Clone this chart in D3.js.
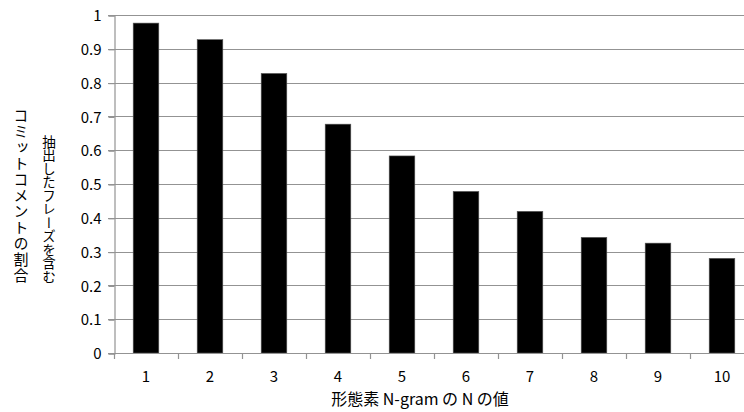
<!DOCTYPE html>
<html>
<head>
<meta charset="utf-8">
<script src="https://cdn.jsdelivr.net/npm/d3@7"></script>
<style>
  body { margin: 0; background: #fff; }
  svg text { font-family: "Noto Sans CJK JP", "Open Sans", sans-serif; fill: #000; }
</style>
</head>
<body>
<div id="chart"></div>
<script>
// values
const categories = ["1", "2", "3", "4", "5", "6", "7", "8", "9", "10"];
const ratios = [0.976, 0.927, 0.827, 0.677, 0.583, 0.478, 0.419, 0.342, 0.325, 0.280];
const yTicks = [0, 0.1, 0.2, 0.3, 0.4, 0.5, 0.6, 0.7, 0.8, 0.9, 1];
const xTitle = "形態素 N-gram の N の値";
const yTitleLines = ["抽出したフレーズを含む", "コミットコメントの割合"];

const width = 744, height = 412;

const svg = d3.select("#chart").append("svg")
    .attr("width", width)
    .attr("height", height);

const x = d3.scaleBand()
    .domain(categories)
    .range([114, 754])
    .paddingInner(0.6)
    .paddingOuter(0.3);

const y = d3.scaleLinear()
    .domain([0, 1])
    .range([353, 15]);

const gridColor = "#939393";

// gridlines
svg.append("g")
    .selectAll("line")
    .data(yTicks)
    .enter()
    .append("line")
    .attr("x1", 108)
    .attr("x2", 754)
    .attr("y1", d => Math.round(y(d)) + 0.5)
    .attr("y2", d => Math.round(y(d)) + 0.5)
    .attr("stroke", gridColor)
    .attr("stroke-width", 1.2);

// bars
svg.append("g")
    .selectAll("rect")
    .data(ratios)
    .enter()
    .append("rect")
    .attr("x", (d, i) => x(categories[i]))
    .attr("y", d => y(d))
    .attr("width", x.bandwidth())
    .attr("height", d => y(0) - y(d))
    .attr("fill", "#000")
    .attr("stroke", "#555")
    .attr("stroke-width", 0.6);

// y axis
const yAxis = d3.axisLeft(y)
    .tickValues(yTicks)
    .tickFormat(d => d3.format("~g")(d))
    .tickSize(6)
    .tickPadding(7);

const gy = svg.append("g")
    .attr("transform", "translate(114.5,0.5)")
    .call(yAxis);
gy.select(".domain").attr("stroke", gridColor).attr("stroke-width", 1.2);
gy.selectAll(".tick line").attr("stroke", gridColor).attr("stroke-width", 1.2);
gy.selectAll(".tick text").attr("font-size", 15).attr("dy", "0.35em");

// x axis: ticks sit between categories
const gx = svg.append("g");
gx.append("line")
    .attr("x1", 114).attr("x2", 754)
    .attr("y1", 353.5).attr("y2", 353.5)
    .attr("stroke", gridColor).attr("stroke-width", 1.2);
gx.selectAll(".xt")
    .data(categories)
    .enter()
    .append("line")
    .attr("class", "xt")
    .attr("x1", d => Math.round(x(d) - x.step() * 0.3) + 0.5)
    .attr("x2", d => Math.round(x(d) - x.step() * 0.3) + 0.5)
    .attr("y1", 353)
    .attr("y2", 359)
    .attr("stroke", gridColor).attr("stroke-width", 1.2);
gx.selectAll("text")
    .data(categories)
    .enter()
    .append("text")
    .attr("x", d => x(d) + x.bandwidth() / 2)
    .attr("y", 382)
    .attr("text-anchor", "middle")
    .attr("font-size", 15)
    .text(d => d);

// axis titles
svg.append("text")
    .attr("x", 420)
    .attr("y", 405)
    .attr("text-anchor", "middle")
    .attr("font-size", 16)
    .text(xTitle);

// vertical (tategaki) y title, right column first
svg.append("text")
    .attr("x", 49)
    .attr("y", 135)
    .attr("font-size", 13.5)
    .style("writing-mode", "vertical-rl")
    .text(yTitleLines[0]);
svg.append("text")
    .attr("x", 21)
    .attr("y", 108)
    .attr("font-size", 15)
    .style("writing-mode", "vertical-rl")
    .style("letter-spacing", "1px")
    .text(yTitleLines[1]);
</script>
</body>
</html>
